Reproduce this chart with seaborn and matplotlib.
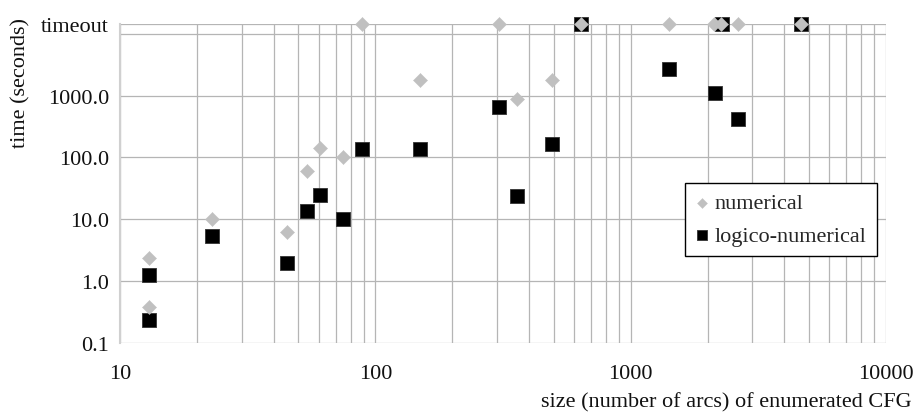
import numpy as np
import pandas as pd
import matplotlib
matplotlib.use("Agg")
import matplotlib.pyplot as plt
import matplotlib.ticker as mticker
import seaborn as sns

TIMEOUT = 14400

# numerical analysis (gray diamonds)
num_size = [13, 13, 22.9, 44.9, 53.8, 60.5, 74.8, 88.8, 150, 304, 358, 492,
            641, 1409, 2113, 2263, 2631, 4627]
num_time = [2.35, 0.377, 10.0, 6.24, 60, 143, 101, TIMEOUT, 1766, TIMEOUT, 895, 1766,
            TIMEOUT, TIMEOUT, TIMEOUT, TIMEOUT, TIMEOUT, TIMEOUT]

# logico-numerical analysis (black squares)
log_size = [13, 13, 22.9, 44.9, 53.8, 60.5, 74.8, 88.8, 150, 304, 358, 492,
            641, 1409, 2133, 2282, 2631, 4627]
log_time = [1.26, 0.238, 5.4, 2.0, 13.6, 24.5, 10.0, 138, 138, 656, 23.5, 166,
            TIMEOUT, 2692, 1105, TIMEOUT, 421, TIMEOUT]

y_ticks = [0.1, 1, 10, 100, 1000, TIMEOUT]
y_labels = ["0.1", "1.0", "10.0", "100.0", "1000.0", "timeout"]
x_ticks = [10, 100, 1000, 10000]
x_labels = ["10", "100", "1000", "10000"]

sns.set_style("white")
plt.rcParams['font.family'] = ['Liberation Serif', 'DejaVu Serif']

fig = plt.figure(figsize=(9.16, 4.14), dpi=100)
ax = fig.add_axes([120 / 916, 1 - 344 / 414, 766 / 916, 319 / 414])

grid_c = "#b5b5b5"

sns.scatterplot(x=num_size, y=num_time, marker="D", s=52, color="#c0c0c0",
                edgecolor="#c0c0c0", linewidth=0.3, label="numerical", zorder=4,
                clip_on=False, ax=ax)
sns.scatterplot(x=log_size, y=log_time, marker="s", s=98, color="#000000",
                edgecolor="#333333", linewidth=0.6, label="logico-numerical", zorder=3,
                clip_on=False, ax=ax)

ax.set_xscale("log")
ax.set_yscale("log")
ax.set_xlim(10, 10000)
ax.set_ylim(0.1, TIMEOUT)

ax.xaxis.set_major_locator(mticker.FixedLocator(x_ticks))
ax.xaxis.set_major_formatter(mticker.FixedFormatter(x_labels))
ax.xaxis.set_minor_locator(mticker.LogLocator(base=10, subs=np.arange(2, 10)))
ax.xaxis.set_minor_formatter(mticker.NullFormatter())
ax.yaxis.set_major_locator(mticker.FixedLocator(y_ticks))
ax.yaxis.set_major_formatter(mticker.FixedFormatter(y_labels))
ax.yaxis.set_minor_locator(mticker.FixedLocator([10000]))
ax.yaxis.set_minor_formatter(mticker.NullFormatter())

ax.grid(True, which="both", color=grid_c, linewidth=0.9)
ax.set_axisbelow(True)
ax.tick_params(axis="both", which="major", length=5.8, width=0.9, color=grid_c,
               labelsize=16, labelcolor="#111111")
ax.tick_params(axis="x", which="major", pad=9)
ax.tick_params(axis="y", which="major", pad=2)
ax.tick_params(axis="both", which="minor", length=0)

for side in ["top", "right", "bottom"]:
    ax.spines[side].set_visible(False)
ax.spines["left"].set_color("#d0d0d0")
ax.spines["left"].set_linewidth(1.5)

ax.set_xlabel("")
ax.set_ylabel("")
fig.text(21 / 916, 1 - 83 / 414, "time (seconds)", rotation=90, ha="center", va="center",
         fontsize=16, color="#111111")
fig.text(912 / 916, 1 - 403 / 414, "size (number of arcs) of enumerated CFG", ha="right",
         va="center", fontsize=16, color="#111111")

leg = ax.legend(loc="upper right", bbox_to_anchor=(0.988, 0.502), fontsize=16,
                frameon=True, fancybox=False, framealpha=1, edgecolor="black",
                markerscale=0.7, handletextpad=0.28, borderpad=0.45, labelspacing=0.55,
                handlelength=0.63, borderaxespad=0)
leg.get_frame().set_linewidth(1.0)

fig.savefig("out.png", dpi=100)
